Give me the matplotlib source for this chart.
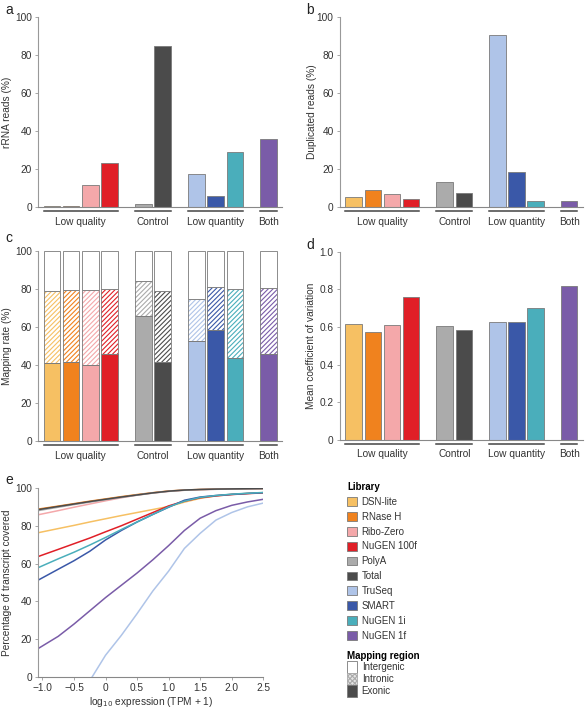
import numpy as np
import matplotlib.pyplot as plt
from matplotlib.patches import Patch

# libraries and colours
libraries = ["DSN-lite", "RNase H", "Ribo-Zero", "NuGEN 100f", "PolyA", "Total",
             "TruSeq", "SMART", "NuGEN 1i", "NuGEN 1f"]
colors = ["#F6C063", "#F0821E", "#F4A8AA", "#E01F27", "#ABABAB", "#4B4B4B",
          "#AFC4E8", "#3A58A8", "#4AAEBB", "#7A5CA8"]
groups = ["Low quality", "Control", "Low quantity", "Both"]
group_sizes = [4, 2, 3, 1]

# panel a/b/c/d values (one per library)
rrna = [0.5, 0.3, 11.4, 23.3, 1.4, 84.6, 17.5, 5.6, 28.8, 35.6]
duplicated = [5.4, 8.8, 7.0, 4.4, 13.2, 7.4, 90.7, 18.4, 3.2, 3.0]
exonic = [40.9, 41.9, 40.0, 46.1, 65.8, 41.8, 52.7, 58.3, 43.8, 46.0]
mapped = [79.3, 79.4, 79.8, 80.0, 84.3, 79.3, 74.7, 81.0, 80.0, 80.8]
cv = [0.618, 0.575, 0.611, 0.761, 0.604, 0.582, 0.627, 0.627, 0.699, 0.818]

# panel e curves
expr = [-1.07, -0.75, -0.5, -0.25, 0.0, 0.25, 0.5, 0.75, 1.0, 1.25, 1.5, 1.75, 2.0, 2.25, 2.5]
cov_dsn = [76.3, 78.5, 80.2, 82.0, 83.7, 85.4, 87.0, 88.6, 90.2, 92.5, 94.5, 95.8, 96.6, 97.1, 97.5]
cov_rnaseh = [88.8, 90.4, 91.7, 93.0, 94.2, 95.4, 96.5, 97.5, 98.4, 98.9, 99.2, 99.4, 99.5, 99.6, 99.7]
cov_ribo = [85.8, 88.0, 89.8, 91.5, 93.2, 94.8, 96.2, 97.3, 98.2, 98.8, 99.1, 99.3, 99.4, 99.5, 99.6]
cov_nugen100f = [63.7, 67.5, 70.5, 73.5, 76.8, 80.0, 83.5, 87.0, 90.5, 93.0, 94.8, 95.8, 96.5, 97.0, 97.4]
cov_polya = [88.0, 89.8, 91.2, 92.5, 93.8, 95.0, 96.2, 97.3, 98.2, 98.8, 99.1, 99.3, 99.4, 99.5, 99.6]
cov_total = [88.5, 90.2, 91.5, 92.8, 94.0, 95.2, 96.3, 97.4, 98.3, 98.9, 99.2, 99.4, 99.5, 99.6, 99.7]
cov_truseq = [np.nan, np.nan, np.nan, -2.0, 11.5, 22.0, 33.5, 45.5, 56.0, 68.0, 76.0, 83.0, 87.0, 90.0, 92.0]
cov_smart = [51.2, 57.0, 61.5, 66.5, 72.5, 77.5, 82.0, 86.0, 89.8, 93.5, 95.2, 96.0, 96.6, 97.1, 97.5]
cov_nugen1i = [57.8, 62.5, 66.0, 69.8, 73.8, 78.0, 82.0, 86.0, 90.0, 93.0, 95.0, 96.0, 96.7, 97.2, 97.6]
cov_nugen1f = [15.0, 21.5, 28.0, 35.0, 42.0, 48.5, 55.0, 62.0, 69.5, 77.5, 84.0, 88.0, 90.8, 92.6, 94.0]
coverage = [cov_dsn, cov_rnaseh, cov_ribo, cov_nugen100f, cov_polya, cov_total,
            cov_truseq, cov_smart, cov_nugen1i, cov_nugen1f]

plt.rcParams['font.family'] = ['Liberation Sans', 'DejaVu Sans']
plt.rcParams['hatch.linewidth'] = 0.8

txt = "#333333"
edge = "#7a7a7a"
W = 0.86
TICK = 7.3
LAB = 7.3

# bar positions with a gap between groups
pos = []
start = 0
for n in group_sizes:
    pos += [start + i for i in range(n)]
    start += n + 0.75
pos = np.array(pos)

fig = plt.figure(figsize=(5.85, 7.08), dpi=100)


def style(ax, ylabel, labx):
    for s in ["top", "right"]:
        ax.spines[s].set_visible(False)
    ax.spines["left"].set_color("#999999")
    ax.spines["bottom"].set_color("#888888")
    ax.spines["left"].set_linewidth(0.8)
    ax.spines["bottom"].set_linewidth(0.8)
    ax.tick_params(axis="y", length=2.5, width=0.6, color="#999999", labelsize=TICK,
                   labelcolor=txt, pad=2)
    ax.set_ylabel(ylabel, fontsize=LAB, color=txt)
    ax.yaxis.set_label_coords(labx, 0.5)


def groups_below(ax):
    ax.set_xticks([])
    ax.set_xlim(-0.72, 11.95)
    tr = ax.get_xaxis_transform()
    k = 0
    for g, n in zip(groups, group_sizes):
        x0 = pos[k] - W / 2
        x1 = pos[k + n - 1] + W / 2
        ax.plot([x0, x1], [-0.022, -0.022], color="#444444", lw=1.1, transform=tr,
                clip_on=False)
        ax.text((x0 + x1) / 2, -0.05, g, transform=tr, ha="center", va="top",
                fontsize=LAB, color=txt)
        k += n


def simple_bars(ax, vals, ylabel, labx, ymax, ticks, labels):
    ax.bar(pos, vals, width=W, color=colors, edgecolor=edge, linewidth=0.6)
    ax.set_ylim(0, ymax)
    ax.set_yticks(ticks)
    ax.set_yticklabels(labels)
    style(ax, ylabel, labx)
    groups_below(ax)


pct = [0, 20, 40, 60, 80, 100]
pct_lab = [str(v) for v in pct]

ax_a = fig.add_axes([0.065, 0.7076, 0.417, 0.268])
simple_bars(ax_a, rrna, "rRNA reads (%)", -0.105, 100, pct, pct_lab)

ax_b = fig.add_axes([0.581, 0.7076, 0.415, 0.268])
simple_bars(ax_b, duplicated, "Duplicated reads (%)", -0.095, 100, pct, pct_lab)

# panel c: stacked mapping
ax_c = fig.add_axes([0.065, 0.377, 0.417, 0.268])
intronic = np.array(mapped) - np.array(exonic)
intergenic = 100 - np.array(mapped)
ax_c.bar(pos, exonic, width=W, color=colors, edgecolor=edge, linewidth=0.6)
ax_c.bar(pos, intronic, bottom=exonic, width=W, color="white", edgecolor=colors,
         hatch="///////", linewidth=0)
ax_c.bar(pos, intronic, bottom=exonic, width=W, fill=False, edgecolor=edge, linewidth=0.6)
ax_c.bar(pos, intergenic, bottom=mapped, width=W, color="white", edgecolor=edge,
         linewidth=0.6)
ax_c.set_ylim(0, 100)
ax_c.set_yticks(pct)
ax_c.set_yticklabels(pct_lab)
style(ax_c, "Mapping rate (%)", -0.105)
groups_below(ax_c)

ax_d = fig.add_axes([0.581, 0.3785, 0.415, 0.266])
simple_bars(ax_d, cv, "Mean coefficient of variation", -0.097, 1.0,
            [0, 0.2, 0.4, 0.6, 0.8, 1.0], ["0", "0.2", "0.4", "0.6", "0.8", "1.0"])

# panel e
ax_e = fig.add_axes([0.065, 0.0438, 0.385, 0.267])
for c, col, lib in zip(coverage, colors, libraries):
    ax_e.plot(expr, c, color=col, lw=1.1, label=lib)
ax_e.set_xlim(-1.07, 2.5)
ax_e.set_ylim(0, 100)
ax_e.set_yticks(pct)
ax_e.set_yticklabels(pct_lab)
xt = [-1.0, -0.5, 0, 0.5, 1.0, 1.5, 2.0, 2.5]
ax_e.set_xticks(xt)
ax_e.set_xticklabels(["\u22121.0", "\u22120.5", "0", "0.5", "1.0", "1.5", "2.0", "2.5"])
style(ax_e, "Percentage of transcript covered", -0.114)
ax_e.tick_params(axis="x", length=2.5, width=0.6, color="#999999", labelsize=TICK,
                 labelcolor=txt, pad=2)
ax_e.set_xlabel("log$_{10}$ expression (TPM + 1)", fontsize=LAB, color=txt, labelpad=1)

# legends
lib_handles = [Patch(facecolor=c, edgecolor=edge, linewidth=0.6) for c in colors]
leg1 = fig.legend(lib_handles, libraries, title="Library", loc="upper left",
                  bbox_to_anchor=(0.585, 0.326), frameon=False, fontsize=7,
                  title_fontproperties={"weight": "bold", "size": 7},
                  alignment="left", handlelength=1.0, handleheight=1.0,
                  labelspacing=0.5, handletextpad=0.5, borderpad=0, labelcolor=txt)
region_handles = [Patch(facecolor="white", edgecolor=edge, linewidth=0.6),
                  Patch(facecolor="#e4e4e4", edgecolor="#aaaaaa", hatch="xxxxxxx", linewidth=0.6),
                  Patch(facecolor="#4B4B4B", edgecolor=edge, linewidth=0.6)]
leg2 = fig.legend(region_handles, ["Intergenic", "Intronic", "Exonic"],
                  title="Mapping region", loc="upper left",
                  bbox_to_anchor=(0.585, 1 - 646 / 708), frameon=False, fontsize=7,
                  title_fontproperties={"weight": "bold", "size": 7},
                  alignment="left", handlelength=1.0, handleheight=1.52,
                  labelspacing=0.0, handletextpad=0.5, borderpad=0, labelcolor=txt)

# panel letters
for letter, x, y in [("a", 5, 10), ("b", 306, 10), ("c", 5, 238), ("d", 306, 245), ("e", 5, 480)]:
    fig.text(x / 585, 1 - y / 708, letter, fontsize=10, ha="left", va="center", color="#222222")

fig.savefig("out.png", dpi=100)
